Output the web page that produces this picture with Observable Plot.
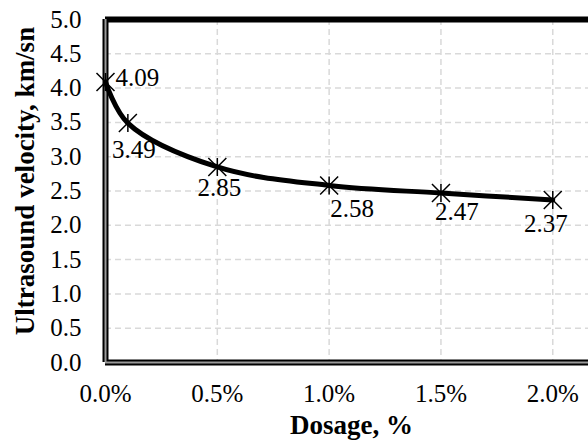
<!DOCTYPE html>
<html><head><meta charset="utf-8">
<script src="https://cdn.jsdelivr.net/npm/d3@7"></script>
<script src="https://cdn.jsdelivr.net/npm/@observablehq/plot@0.6"></script>
<style>html,body{margin:0;padding:0;background:#fff;overflow:hidden}</style>
</head><body><div id="chart"></div>
<script>
// ---- data ----
const dosage = [0, 0.1, 0.5, 1.0, 1.5, 2.0];          // %
const velocity = [4.09, 3.49, 2.85, 2.58, 2.47, 2.37]; // km/sn
const valueLabels = ["4.09", "3.49", "2.85", "2.58", "2.47", "2.37"];
const xTicks = [0, 0.5, 1.0, 1.5, 2.0];
const yTicks = [0, 0.5, 1.0, 1.5, 2.0, 2.5, 3.0, 3.5, 4.0, 4.5, 5.0];
const xTitle = "Dosage, %";
const yTitle = "Ultrasound velocity, km/sn";

const data = dosage.map((d, i) => ({dosage: d, velocity: velocity[i], label: valueLabels[i], i}));

// label placement (style)
const placement = [
  {dx: 10, dy: -4, anchor: "start"},
  {dx: 6, dy: 27, anchor: "middle"},
  {dx: 2, dy: 21, anchor: "middle"},
  {dx: 23, dy: 23, anchor: "middle"},
  {dx: 16, dy: 19, anchor: "middle"},
  {dx: -7, dy: 24, anchor: "middle"}
];

const star = {
  draw(ctx, size) {
    const r = Math.sqrt(size / Math.PI);
    ctx.moveTo(-r, -r); ctx.lineTo(r, r);
    ctx.moveTo(-r, r); ctx.lineTo(r, -r);
    ctx.moveTo(0, -r); ctx.lineTo(0, r);
  }
};

const serif = "'Liberation Serif', 'Times New Roman', serif";
const gridStyle = {stroke: "#d9d9d9", strokeWidth: 1.5, strokeDasharray: "6,4"};

const chart = Plot.plot({
  width: 588,
  height: 448,
  marginLeft: 105,
  marginTop: 19,
  marginBottom: 86,
  marginRight: -9,
  style: {fontFamily: serif, fontSize: "25px", color: "#000", background: "#fff", overflow: "hidden"},
  x: {domain: [0, 2.2], axis: null},
  y: {domain: [0, 5], axis: null},
  marks: [
    Plot.ruleX(xTicks.filter(d => d > 0), gridStyle),
    Plot.ruleY(yTicks.filter(d => d > 0 && d < 5), gridStyle),
    Plot.axisX(xTicks, {anchor: "bottom", tickSize: 0, tickPadding: 22, tickFormat: d => d.toFixed(1) + "%", fontSize: 25, fontFamily: serif, fill: "#000", label: null}),
    Plot.axisY(yTicks, {anchor: "left", tickSize: 0, tickPadding: 24, tickFormat: d => d.toFixed(1), fontSize: 25, fontFamily: serif, fill: "#000", label: null}),
    Plot.ruleY([5], {stroke: "#000", strokeWidth: 6}),
    Plot.ruleX([0], {stroke: "#000", strokeWidth: 6}),
    Plot.ruleY([0], {stroke: "#000", strokeWidth: 6}),
    Plot.ruleX([0], {stroke: "#9a9a9a", strokeWidth: 2}),
    Plot.ruleY([0], {stroke: "#9a9a9a", strokeWidth: 2}),
    Plot.line(data, {x: "dosage", y: "velocity", curve: "catmull-rom", stroke: "#000", strokeWidth: 5}),
    Plot.dot(data, {x: "dosage", y: "velocity", symbol: star, r: 9, stroke: "#000", strokeWidth: 1.5, fill: "none"}),
    ...placement.map((p, i) => Plot.text(data.filter(d => d.i === i), {
      x: "dosage", y: "velocity", text: "label",
      dx: p.dx, dy: p.dy, textAnchor: p.anchor,
      fontSize: 25, fontFamily: serif, fill: "#000"
    })),
    Plot.text([xTitle], {frameAnchor: "bottom", textAnchor: "middle", dy: 71, fontSize: 27, fontWeight: "bold", fontFamily: serif, fill: "#000"}),
    Plot.text([yTitle], {frameAnchor: "left", textAnchor: "middle", rotate: -90, dx: -80, dy: -10, fontSize: 27, fontWeight: "bold", fontFamily: serif, fill: "#000"})
  ]
});
document.getElementById("chart").appendChild(chart);
</script>
</body></html>
